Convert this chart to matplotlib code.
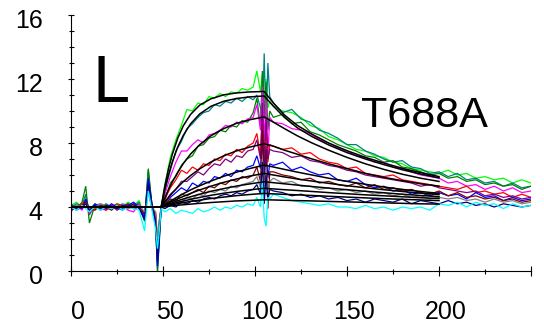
import matplotlib
matplotlib.use("Agg")
import matplotlib.pyplot as plt
from matplotlib.transforms import ScaledTranslation

plt.rcParams['font.family'] = ['Liberation Sans', 'DejaVu Sans']

# Sampling times (s) of the recorded sensorgrams
t_pre = [0, 3, 6, 8, 10, 13, 16, 19, 22, 25, 28, 31, 34, 37, 40, 42, 44, 46, 47, 48, 49]
t_assoc = [51, 54, 57, 60, 63, 66, 69, 72, 75, 78, 81, 84, 87, 90, 93, 96, 99]
t_inj_end = [101, 103, 104, 105, 106, 107, 108]
t_dissoc = [110, 115, 120, 125, 130, 135, 140, 145, 150, 155, 160, 165, 170, 175,
            180, 185, 190, 195, 200, 205, 210, 215, 220, 225, 230, 235, 240, 245, 250]
t = t_pre + t_assoc + t_inj_end + t_dissoc

# Response (RU) of each injection
lime = ([4.1, 4.3, 3.9, 4.6, 3.8, 4.2, 4.0, 4.1, 3.9, 4.2, 4.0, 4.3, 4.1, 4.4, 3.4, 5.9, 4.2, 3.2, 0.6, 2.4, 4.0]
        + [5.4, 7.1, 8.2, 9.1, 10.1, 10.0, 10.5, 10.4, 10.9, 10.8, 11.1, 10.9, 11.2, 11.1, 11.4, 11.3, 11.5]
        + [12.5, 11.2, 12.3, 10.5, 12.0, 10.2, 10.6]
        + [10.3, 10.0, 9.9, 9.6, 9.1, 8.9, 8.4, 8.2, 7.9, 7.6, 7.5, 7.2, 7.1, 6.8, 6.7, 6.4, 6.3, 6.2, 6.1,
           6.3, 6.0, 6.1, 5.8, 5.9, 5.7, 5.8, 5.5, 5.7, 5.5])
teal = ([4.0, 4.2, 4.1, 4.8, 3.5, 4.1, 4.2, 3.9, 4.1, 4.0, 4.2, 4.1, 4.0, 4.3, 3.2, 6.3, 4.0, 2.8, 0.0, 1.8, 3.9]
        + [5.0, 6.3, 7.5, 8.1, 8.9, 9.2, 9.6, 9.9, 10.0, 10.4, 10.3, 10.6, 10.5, 10.8, 10.6, 10.9, 10.7]
        + [11.0, 10.2, 9.4, 13.6, 9.0, 13.0, 10.9]
        + [10.5, 9.9, 10.1, 9.5, 9.3, 8.8, 8.6, 8.3, 7.9, 7.9, 7.5, 7.3, 7.0, 6.8, 6.9, 6.5, 6.4, 6.1, 6.2,
           5.9, 6.1, 5.7, 5.8, 5.5, 5.6, 5.3, 5.5, 5.2, 5.3])
dkgreen = ([4.2, 3.9, 4.3, 5.3, 3.0, 4.1, 3.9, 4.2, 4.0, 4.1, 3.9, 4.2, 4.0, 4.2, 3.1, 6.4, 4.1, 3.0, 0.0, 2.2, 4.0]
           + [4.4, 5.5, 5.9, 6.6, 7.0, 7.2, 7.8, 7.9, 8.3, 8.4, 8.8, 8.7, 9.1, 9.0, 9.4, 9.3, 9.9]
           + [10.8, 9.0, 12.5, 9.5, 11.8, 8.8, 10.0]
           + [9.6, 9.8, 9.2, 9.3, 8.7, 8.5, 8.2, 7.9, 7.7, 7.5, 7.2, 7.1, 6.8, 6.9, 6.5, 6.4, 6.2, 6.0, 6.1,
              5.8, 5.9, 5.6, 5.7, 5.4, 5.5, 5.3, 5.4, 5.1, 5.3])
magenta = ([3.7, 4.1, 3.8, 4.3, 3.6, 4.0, 3.9, 3.8, 4.1, 3.9, 4.1, 3.8, 3.7, 4.2, 3.3, 5.6, 3.9, 3.4, 1.0, 2.6, 4.0]
           + [4.8, 5.9, 6.8, 7.5, 7.5, 7.9, 8.2, 8.0, 8.5, 8.6, 8.8, 9.1, 9.0, 9.3, 9.2, 9.5, 9.6]
           + [10.4, 8.8, 11.5, 8.0, 10.9, 7.2, 9.6]
           + [9.3, 9.2, 8.9, 8.8, 8.6, 8.2, 8.0, 7.7, 7.5, 7.2, 7.1, 6.8, 6.8, 6.5, 6.4, 6.2, 6.0, 5.9, 5.8,
              5.5, 5.6, 5.3, 5.4, 5.1, 5.3, 5.0, 5.2, 4.9, 5.0])
red = ([3.9, 4.0, 4.2, 4.4, 3.7, 3.9, 4.1, 3.8, 4.0, 4.2, 4.1, 3.9, 4.1, 4.0, 3.5, 5.4, 4.1, 3.3, 1.2, 2.8, 4.0]
       + [4.5, 5.2, 5.7, 6.3, 6.1, 6.5, 6.3, 6.7, 6.6, 7.0, 6.9, 7.3, 7.2, 7.6, 7.4, 7.8, 8.0]
       + [8.6, 7.2, 9.8, 7.0, 9.0, 6.8, 7.9]
       + [7.8, 7.6, 7.7, 7.3, 7.4, 7.0, 6.8, 6.7, 6.4, 6.5, 6.1, 6.0, 5.9, 6.0, 5.7, 5.6, 5.5, 5.4, 5.3,
          5.2, 5.1, 5.3, 4.9, 5.0, 4.8, 4.9, 4.6, 4.8, 4.6])
purple = ([4.1, 3.8, 4.0, 4.2, 3.9, 4.1, 3.8, 4.0, 4.1, 3.8, 4.0, 4.2, 3.9, 4.1, 3.4, 5.2, 4.0, 3.5, 1.5, 2.9, 4.0]
          + [4.3, 4.8, 5.1, 5.6, 5.6, 5.9, 6.2, 6.0, 6.4, 6.7, 6.6, 7.0, 6.8, 7.2, 7.1, 7.5, 7.6]
          + [8.2, 7.0, 10.5, 6.7, 9.5, 7.0, 7.6]
          + [7.5, 7.4, 7.1, 7.2, 6.9, 6.8, 6.6, 6.5, 6.3, 6.2, 6.0, 5.9, 5.8, 5.7, 5.6, 5.5, 5.3, 5.4, 5.2,
             5.1, 5.0, 4.9, 5.0, 4.7, 4.8, 4.6, 4.7, 4.5, 4.6])
blue = ([4.0, 4.1, 3.9, 4.5, 3.8, 4.2, 4.0, 3.9, 4.2, 4.0, 3.8, 4.1, 4.3, 4.0, 3.3, 5.8, 4.2, 2.9, 0.3, 2.0, 4.0]
        + [4.3, 4.6, 4.9, 5.2, 5.0, 5.5, 5.3, 5.6, 5.5, 5.9, 5.8, 6.1, 5.9, 6.3, 6.2, 6.5, 6.6]
        + [7.2, 6.4, 8.5, 6.0, 7.6, 5.8, 6.7]
        + [6.6, 6.8, 6.3, 6.5, 6.2, 6.0, 6.1, 5.7, 5.6, 5.8, 5.4, 5.2, 5.3, 5.0, 5.1, 4.8, 4.9, 4.7, 4.9,
           4.7, 4.8, 4.5, 4.9, 4.6, 4.7, 4.4, 4.6, 4.4, 4.5])
maroon = ([3.8, 4.0, 4.1, 4.3, 3.9, 3.8, 4.1, 4.0, 3.8, 4.1, 4.0, 4.1, 3.9, 4.0, 3.6, 5.0, 3.9, 3.6, 1.8, 3.1, 4.0]
          + [4.2, 4.5, 4.4, 4.8, 4.7, 4.9, 5.1, 4.9, 5.3, 5.2, 5.5, 5.4, 5.7, 5.6, 5.9, 5.8, 6.0]
          + [6.5, 5.6, 8.8, 4.5, 7.8, 3.9, 6.2]
          + [6.2, 6.0, 5.9, 5.7, 5.8, 5.5, 5.6, 5.4, 5.3, 5.5, 5.2, 5.4, 5.1, 5.2, 5.0, 5.1, 4.9, 4.8, 5.0,
             4.7, 4.9, 4.6, 4.7, 4.5, 4.6, 4.4, 4.5, 4.3, 4.4])
gray = ([4.0, 4.1, 4.0, 4.2, 3.9, 4.0, 4.2, 4.1, 3.9, 4.0, 4.1, 3.9, 4.0, 4.1, 3.7, 4.9, 4.0, 3.7, 2.0, 3.2, 4.0]
        + [4.0, 4.2, 4.4, 4.3, 4.6, 4.5, 4.8, 4.7, 5.0, 4.9, 5.1, 5.0, 5.3, 5.2, 5.4, 5.5, 5.6]
        + [5.9, 5.2, 7.0, 4.8, 6.5, 4.7, 5.6]
        + [5.8, 5.5, 5.6, 5.3, 5.3, 5.1, 5.2, 5.0, 5.1, 4.9, 5.0, 4.8, 4.9, 4.7, 4.8, 4.6, 4.7, 4.5, 4.6,
           4.5, 4.6, 4.4, 4.5, 4.3, 4.5, 4.3, 4.4, 4.2, 4.3])
navy = ([4.1, 3.9, 4.0, 4.2, 3.8, 4.1, 3.9, 4.1, 4.0, 3.9, 4.1, 4.0, 4.2, 3.9, 3.2, 5.5, 4.1, 3.1, 0.6, 2.3, 4.0]
        + [3.9, 4.1, 4.0, 4.3, 4.2, 4.4, 4.3, 4.5, 4.6, 4.5, 4.7, 4.8, 4.7, 4.9, 4.8, 5.0, 5.1]
        + [5.4, 4.8, 6.8, 4.2, 6.0, 4.4, 5.1]
        + [5.0, 4.9, 4.7, 4.8, 4.6, 4.7, 4.5, 4.6, 4.4, 4.5, 4.3, 4.5, 4.4, 4.3, 4.5, 4.2, 4.4, 4.3, 4.2,
           4.4, 4.2, 4.3, 4.1, 4.2, 4.0, 4.2, 4.1, 4.0, 4.1])
cyan = ([4.0, 3.8, 4.1, 3.9, 3.7, 4.0, 3.8, 4.0, 3.9, 4.1, 3.8, 4.0, 3.9, 3.8, 2.5, 5.0, 3.8, 2.6, 1.4, 2.5, 3.9]
        + [3.7, 3.9, 3.6, 3.8, 3.7, 3.6, 3.9, 3.7, 3.8, 4.0, 3.8, 4.0, 3.9, 4.1, 4.0, 4.2, 4.1]
        + [4.6, 4.0, 5.5, 3.3, 2.8, 4.6, 4.5]
        + [4.8, 4.6, 4.4, 4.3, 4.2, 4.1, 4.2, 4.0, 4.0, 3.9, 4.1, 3.9, 4.0, 3.8, 4.0, 3.9, 4.0, 3.8, 4.2,
           4.1, 4.3, 4.0, 4.3, 4.1, 4.2, 3.9, 4.2, 4.0, 4.1])

traces = [
    (lime, '#00ff00'), (teal, '#008080'), (dkgreen, '#008000'), (magenta, '#ff00ff'),
    (red, '#ff0000'), (purple, '#800080'), (blue, '#0000ff'), (maroon, '#800000'),
    (gray, '#808080'), (navy, '#000080'), (cyan, '#00ffff'),
]

# Global 1:1 binding fit curves (baseline, association, dissociation)
t_fit = [0, 49, 51, 53, 55, 58, 61, 65, 70, 76, 83, 90, 97, 105,
         110, 116, 123, 131, 140, 150, 160, 170, 180, 190, 200]
fit1 = [4.00, 4.00, 5.31, 6.39, 7.27, 8.30, 9.07, 9.79, 10.37, 10.76, 11.01, 11.13, 11.19, 11.22,
        10.50, 9.75, 9.10, 8.55, 8.00, 7.52, 7.10, 6.75, 6.42, 6.15, 5.90]
fit2 = [4.00, 4.00, 5.10, 6.02, 6.80, 7.75, 8.47, 9.20, 9.82, 10.29, 10.61, 10.78, 10.88, 10.94,
        10.30, 9.60, 8.95, 8.40, 7.88, 7.40, 7.00, 6.65, 6.33, 6.06, 5.82]
fit3 = [4.00, 4.00, 4.57, 5.09, 5.55, 6.17, 6.71, 7.31, 7.90, 8.45, 8.90, 9.23, 9.45, 9.63,
        9.30, 8.90, 8.45, 8.00, 7.55, 7.10, 6.70, 6.35, 6.05, 5.80, 5.60]
fit4 = [4.00, 4.00, 4.31, 4.60, 4.87, 5.24, 5.58, 5.97, 6.39, 6.81, 7.20, 7.51, 7.74, 7.95,
        7.80, 7.55, 7.30, 7.00, 6.70, 6.40, 6.10, 5.85, 5.65, 5.45, 5.30]
fit5 = [4.00, 4.00, 4.15, 4.30, 4.44, 4.64, 4.83, 5.07, 5.33, 5.62, 5.92, 6.18, 6.40, 6.62,
        6.50, 6.35, 6.18, 6.00, 5.80, 5.60, 5.42, 5.25, 5.10, 4.97, 4.85]
fit6 = [4.00, 4.00, 4.12, 4.24, 4.35, 4.51, 4.66, 4.85, 5.07, 5.30, 5.54, 5.75, 5.93, 6.10,
        6.00, 5.88, 5.75, 5.62, 5.48, 5.33, 5.20, 5.08, 4.97, 4.87, 4.78]
fit7 = [4.00, 4.00, 4.09, 4.18, 4.26, 4.39, 4.50, 4.64, 4.80, 4.98, 5.15, 5.31, 5.44, 5.58,
        5.52, 5.45, 5.37, 5.28, 5.18, 5.08, 4.98, 4.89, 4.80, 4.72, 4.65]
fit8 = [4.00, 4.00, 4.07, 4.13, 4.20, 4.29, 4.37, 4.48, 4.60, 4.73, 4.86, 4.97, 5.07, 5.17,
        5.13, 5.08, 5.03, 4.97, 4.90, 4.83, 4.76, 4.70, 4.64, 4.58, 4.53]
fit9 = [4.00, 4.00, 4.05, 4.10, 4.14, 4.21, 4.27, 4.35, 4.43, 4.53, 4.62, 4.71, 4.78, 4.85,
        4.82, 4.79, 4.76, 4.72, 4.67, 4.62, 4.57, 4.52, 4.48, 4.44, 4.40]
fit10 = [4.00, 4.00, 4.03, 4.05, 4.08, 4.11, 4.14, 4.18, 4.23, 4.28, 4.33, 4.38, 4.41, 4.45,
         4.44, 4.42, 4.40, 4.38, 4.35, 4.32, 4.29, 4.26, 4.23, 4.20, 4.18]
fits = [fit1, fit2, fit3, fit4, fit5, fit6, fit7, fit8, fit9, fit10]

x_ticks = [0, 50, 100, 150, 200, 250]
x_tick_labels = ['0', '50', '100', '150', '200', '']
y_ticks = [0, 4, 8, 12, 16]
y_tick_labels = ['0', '4', '8', '12', '16']

fig = plt.figure(figsize=(5.44, 3.27), dpi=100)
ax = fig.add_axes([71 / 544, 56 / 327, 460 / 544, 256 / 327])

for ys, col in traces:
    n = min(len(t), len(ys))
    ax.plot(t[:n], ys[:n], color=col, lw=0.9, solid_joinstyle='miter')

for f in fits:
    ax.plot(t_fit, f, color='black', lw=1.1)

ax.set_xlim(0, 250)
ax.set_ylim(0, 16)
for s in ('top', 'right'):
    ax.spines[s].set_visible(False)
for s in ('left', 'bottom'):
    ax.spines[s].set_linewidth(0.8)

ax.set_xticks(x_ticks)
ax.set_xticklabels(x_tick_labels)
ax.set_xticks([25, 75, 125, 175, 225], minor=True)
ax.set_yticks(y_ticks)
ax.set_yticklabels(y_tick_labels)
ax.set_yticks(range(0, 17), minor=True)

ax.tick_params(which='both', direction='inout', width=0.8, labelsize=18)
ax.tick_params(axis='x', which='major', length=7.2, pad=17)
ax.tick_params(axis='x', which='minor', length=3.6)
ax.tick_params(axis='y', which='major', length=5, pad=18)
ax.tick_params(axis='y', which='minor', length=3.6)

for lab in ax.get_xticklabels():
    lab.set_transform(lab.get_transform() + ScaledTranslation(0.07, 0, fig.dpi_scale_trans))
for lab in ax.get_yticklabels():
    lab.set_transform(lab.get_transform() + ScaledTranslation(0, -0.03, fig.dpi_scale_trans))

fig.text(92 / 544, 1 - 102.3 / 327, 'L', fontsize=48, ha='left', va='baseline')
fig.text(360.5 / 544, 1 - 126.7 / 327, 'T688A', fontsize=31, ha='left', va='baseline')

fig.savefig('out.png', dpi=100)
